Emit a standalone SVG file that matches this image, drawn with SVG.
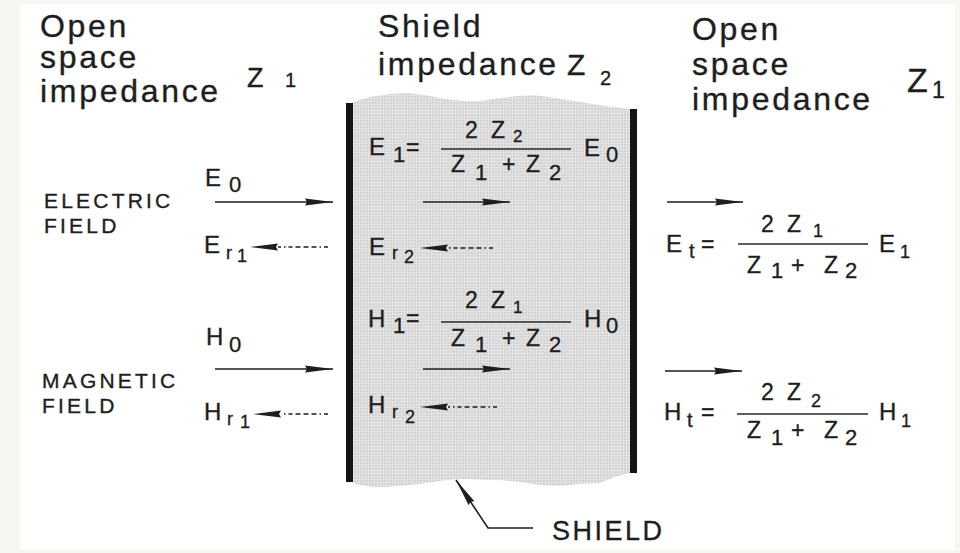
<svg xmlns="http://www.w3.org/2000/svg" width="960" height="553" viewBox="0 0 960 553">
<style>
text{font-family:"Liberation Sans",Arial,Helvetica,sans-serif;fill:#1e1e1e;stroke:#1e1e1e;stroke-width:0.35}
.hd{font-size:32px;letter-spacing:2.7px}
.lb{font-size:21px;letter-spacing:3.2px}
.v{font-size:24px}
.s{font-size:18px}
.sb{font-size:22px}
.sn{font-size:17px}
.s2{font-size:20px}
.z{font-size:23px}
.bar{fill:#141414}
.fr{stroke:#2a2a2a;stroke-width:1.6;fill:none}
.ar{stroke:#1e1e1e;stroke-width:1.6;fill:none}
.ds{stroke:#1e1e1e;stroke-width:1.6;fill:none;stroke-dasharray:4 3 1.5 3 5 3 5 3 5 3}
</style>
<defs>
<pattern id="tex" width="3" height="3" patternUnits="userSpaceOnUse">
<rect width="3" height="3" fill="#e3e3e3"/>
<rect width="2" height="2" fill="#d3d3d3"/>
</pattern>
<marker id="ah" markerUnits="userSpaceOnUse" markerWidth="30" markerHeight="9" refX="28" refY="4" orient="auto">
<path d="M0,0.5 L28,4 L0,7.5 L2,4 Z" fill="#1e1e1e"/>
</marker>
<marker id="ahb" markerUnits="userSpaceOnUse" markerWidth="30" markerHeight="9" refX="0" refY="4" orient="auto">
<path d="M0,0.5 L28,4 L0,7.5 L2,4 Z" fill="#1e1e1e"/>
</marker>
</defs>

<g id="background">
<rect width="960" height="553" fill="#f7f6f3"/>
<rect x="20" y="4" width="935" height="546" fill="#ffffff"/>
</g>

<g id="shield">
<path d="M353,102 L370,97 L390,94 L407,93 L425,95 L445,99 L465,101 L480,101 L500,98 L518,96 L533,95 L555,98 L580,102 L605,106 L630,109 L630,473 L615,477 L600,483 L580,484 L560,486 L540,485 L520,482 L500,480 L485,480 L470,479 L456,479 L440,481 L420,484 L400,486 L385,487 L373,487 L360,485 L353,483 Z" fill="url(#tex)"/>
<rect class="bar" x="346" y="103" width="7" height="379"/>
<rect class="bar" x="630" y="109" width="7" height="364"/>
</g>

<g id="left-open-space">
<text class="hd" x="40" y="37">Open</text>
<text class="hd" x="40" y="68">space</text>
<text class="hd" x="40" y="102">impedance</text>
<text x="247" y="87" style="font-size:27px">Z</text>
<text x="285" y="87" class="s2">1</text>
</g>

<g id="shield-impedance">
<text class="hd" x="378" y="37">Shield</text>
<text class="hd" x="378" y="75">impedance</text>
<text x="567" y="75" style="font-size:30px">Z</text>
<text x="600" y="85" class="s2">2</text>
</g>

<g id="right-open-space">
<text class="hd" x="692" y="40">Open</text>
<text class="hd" x="692" y="75">space</text>
<text class="hd" x="692" y="110">impedance</text>
<text x="907" y="92" style="font-size:34px">Z</text>
<text x="932" y="98" style="font-size:23px">1</text>
</g>

<g id="electric-field">
<text class="lb" x="44" y="208">ELECTRIC</text>
<text class="lb" x="44" y="233">FIELD</text>
<text class="v" x="205" y="186">E</text>
<text class="sb" x="229" y="192">0</text>
<text class="v" x="204" y="253">E</text>
<text class="s" x="226" y="259">r</text>
<text class="s" x="237" y="262">1</text>
</g>

<g id="magnetic-field">
<text class="lb" x="42" y="388">MAGNETIC</text>
<text class="lb" x="42" y="413">FIELD</text>
<text class="v" x="206" y="345">H</text>
<text class="sb" x="229" y="352">0</text>
<text class="v" x="204" y="420">H</text>
<text class="s" x="227" y="425">r</text>
<text class="s" x="240" y="428">1</text>
</g>

<g id="eq-E1">
<text class="v" x="369" y="155">E</text>
<text class="sb" x="393" y="162">1</text>
<text class="z" x="406" y="155">=</text>
<path class="fr" d="M441,149 H571"/>
<text class="z" x="465" y="138">2</text>
<text class="z" x="491" y="138">Z</text>
<text class="sn" x="513" y="142">2</text>
<text class="z" x="451" y="172">Z</text>
<text class="sb" x="475" y="180">1</text>
<text class="z" x="502" y="172">+</text>
<text class="z" x="526" y="172">Z</text>
<text class="sb" x="549" y="180">2</text>
<text class="v" x="584" y="156">E</text>
<text class="sb" x="606" y="162">0</text>
</g>

<g id="reflected-Er2">
<text class="v" x="369" y="255">E</text>
<text class="s" x="392" y="259">r</text>
<text class="s" x="404" y="263">2</text>
</g>

<g id="eq-H1">
<text class="v" x="368" y="327">H</text>
<text class="sb" x="393" y="333">1</text>
<text class="z" x="406" y="326">=</text>
<path class="fr" d="M441,322 H571"/>
<text class="z" x="465" y="308">2</text>
<text class="z" x="491" y="308">Z</text>
<text class="sn" x="513" y="313">1</text>
<text class="z" x="451" y="346">Z</text>
<text class="sb" x="475" y="352">1</text>
<text class="z" x="502" y="346">+</text>
<text class="z" x="526" y="346">Z</text>
<text class="sb" x="549" y="352">2</text>
<text class="v" x="584" y="327">H</text>
<text class="sb" x="606" y="333">0</text>
</g>

<g id="reflected-Hr2">
<text class="v" x="368" y="413">H</text>
<text class="s" x="392" y="418">r</text>
<text class="s" x="405" y="423">2</text>
</g>

<g id="eq-Et">
<text class="v" x="666" y="252">E</text>
<text class="s2" x="689" y="258">t</text>
<text class="z" x="701" y="252">=</text>
<path class="fr" d="M738,244 H868"/>
<text class="z" x="761" y="232">2</text>
<text class="z" x="787" y="232">Z</text>
<text class="s" x="813" y="237">1</text>
<text class="z" x="747" y="273">Z</text>
<text class="sb" x="771" y="278">1</text>
<text class="z" x="791" y="273">+</text>
<text class="z" x="824" y="273">Z</text>
<text class="sb" x="845" y="278">2</text>
<text class="v" x="879" y="252">E</text>
<text class="s" x="900" y="258">1</text>
</g>

<g id="eq-Ht">
<text class="v" x="664" y="420">H</text>
<text class="s2" x="687" y="427">t</text>
<text class="z" x="701" y="420">=</text>
<path class="fr" d="M737,414 H868"/>
<text class="z" x="761" y="400">2</text>
<text class="z" x="787" y="400">Z</text>
<text class="s" x="811" y="407">2</text>
<text class="z" x="747" y="438">Z</text>
<text class="sb" x="771" y="445">1</text>
<text class="z" x="791" y="438">+</text>
<text class="z" x="824" y="438">Z</text>
<text class="sb" x="845" y="445">2</text>
<text class="v" x="879" y="420">H</text>
<text class="s" x="901" y="427">1</text>
</g>

<g id="shield-label">
<text x="552" y="540" style="font-size:27px;letter-spacing:2.5px">SHIELD</text>
</g>

<g id="connectors">
<path class="ar" d="M215,202 H333" marker-end="url(#ah)"/>
<path class="ar" d="M423,202 H510" marker-end="url(#ah)"/>
<path class="ar" d="M667,202 H743" marker-end="url(#ah)"/>
<path class="ar" d="M215,369 H333" marker-end="url(#ah)"/>
<path class="ar" d="M423,369 H510" marker-end="url(#ah)"/>
<path class="ar" d="M665,371 H742" marker-end="url(#ah)"/>
<path class="ds" d="M328,247 H278" marker-end="url(#ahb)"/>
<path class="ds" d="M493,248 H448" marker-end="url(#ahb)"/>
<path class="ds" d="M328,414 H281" marker-end="url(#ahb)"/>
<path class="ds" d="M497,407 H448" marker-end="url(#ahb)"/>
<path class="ar" d="M533,528 H488 L456,480" marker-end="url(#ah)"/>
</g>
</svg>
